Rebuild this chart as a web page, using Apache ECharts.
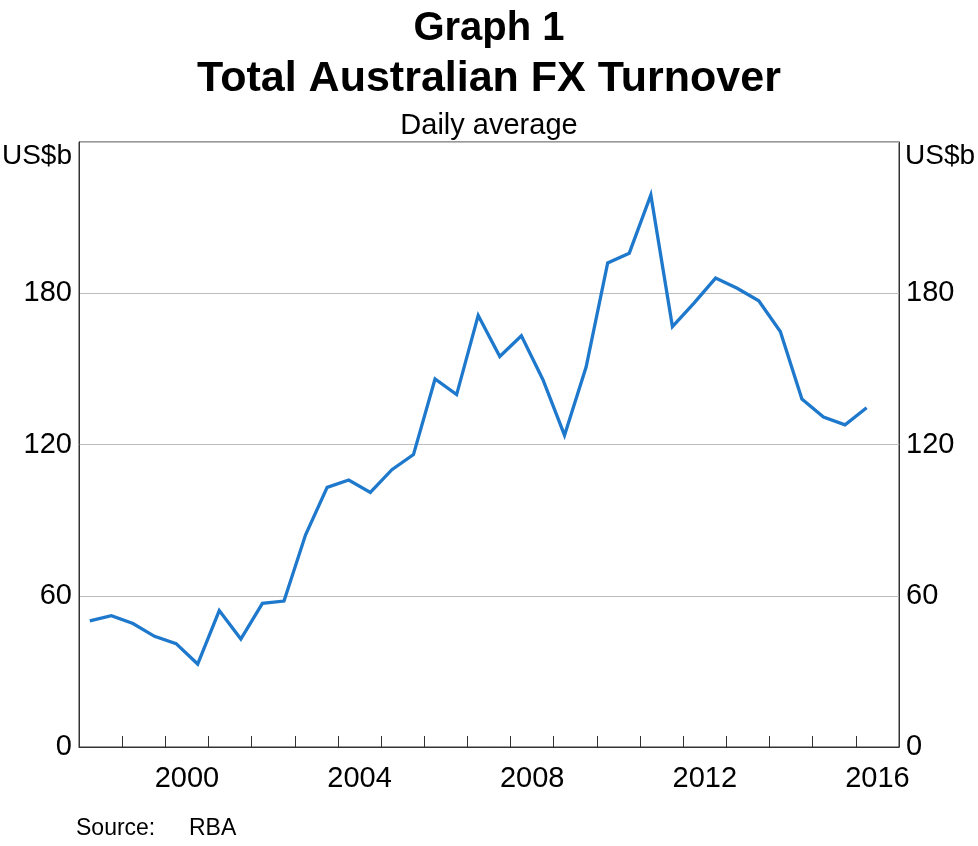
<!DOCTYPE html>
<html>
<head>
<meta charset="utf-8">
<script src="https://cdn.jsdelivr.net/npm/echarts@6/dist/echarts.min.js"></script>
<style>
html,body{margin:0;padding:0;background:#fff;}
#chart{width:978px;height:846px;}
</style>
</head>
<body>
<div id="chart"></div>
<script>
// Survey dates (decimal years: April = .25, October = .75)
const surveyDates = [
  1998.25, 1998.75, 1999.25, 1999.75, 2000.25, 2000.75, 2001.25, 2001.75,
  2002.25, 2002.75, 2003.25, 2003.75, 2004.25, 2004.75, 2005.25, 2005.75,
  2006.25, 2006.75, 2007.25, 2007.75, 2008.25, 2008.75, 2009.25, 2009.75,
  2010.25, 2010.75, 2011.25, 2011.75, 2012.25, 2012.75, 2013.25, 2013.75,
  2014.25, 2014.75, 2015.25, 2015.75, 2016.25
];
// Total Australian FX turnover, daily average, US$b
const turnover = [
  50.0, 52.1, 49.0, 43.9, 41.0, 32.9, 54.1, 42.8,
  57.0, 57.9, 84.2, 103.0, 105.9, 101.0, 110.0, 116.0,
  146.0, 139.8, 171.2, 154.9, 163.1, 145.7, 123.7, 150.7,
  192.0, 195.9, 219.0, 166.8, 176.1, 186.0, 182.0, 177.0,
  164.8, 138.0, 130.9, 127.8, 134.6
];
const yearLabels = [2000, 2004, 2008, 2012, 2016];
const yTickLabels = [0, 60, 120, 180];

const seriesData = surveyDates.map((d, i) => [d, turnover[i]]);
const FONT = 'Liberation Sans, Arial, Helvetica, sans-serif';
const DARK = '#333333';

const chart = echarts.init(document.getElementById('chart'), null, {renderer: 'canvas'});
chart.setOption({
  backgroundColor: '#ffffff',
  animation: false,
  title: [
    {text: 'Graph 1', left: 'center', top: 4,
     textStyle: {fontFamily: FONT, fontSize: 40, fontWeight: 'bold', color: '#000', lineHeight: 40}},
    {text: 'Total Australian FX Turnover', left: 'center', top: 53,
     textStyle: {fontFamily: FONT, fontSize: 43, fontWeight: 'bold', color: '#000', lineHeight: 43}},
    {text: 'Daily average', left: 'center', top: 106,
     textStyle: {fontFamily: FONT, fontSize: 29, fontWeight: 'normal', color: '#000', lineHeight: 29}}
  ],
  grid: {left: 79, right: 79, top: 142, bottom: 99, show: true, borderColor: DARK, borderWidth: 1, backgroundColor: 'transparent'},
  xAxis: [
    {type: 'value', min: 1998, max: 2017, interval: 1, position: 'bottom',
     axisLine: {show: true, onZero: false, lineStyle: {color: DARK, width: 1}},
     axisTick: {show: true, inside: true, length: 11, lineStyle: {color: DARK, width: 1}},
     axisLabel: {show: false}, splitLine: {show: false}},
    {type: 'value', min: 1998, max: 2017, interval: 0.5, position: 'bottom',
     axisLine: {show: false}, axisTick: {show: false}, splitLine: {show: false},
     axisLabel: {show: true, margin: 17, fontFamily: FONT, fontSize: 29, color: '#000', lineHeight: 29,
       showMinLabel: true, showMaxLabel: true,
       formatter: v => { const y = Math.round((v - 0.5) * 10) / 10; return yearLabels.includes(y) ? String(y) : ''; }}}
  ],
  yAxis: [
    {type: 'value', min: 0, max: 240, interval: 60, position: 'left',
     axisLine: {show: true, lineStyle: {color: DARK, width: 1}}, axisTick: {show: false},
     splitLine: {show: true, lineStyle: {color: '#bdbdbd', width: 1}},
     axisLabel: {margin: 7, fontFamily: FONT, fontSize: 29, color: '#000',
       formatter: v => yTickLabels.includes(v) ? String(v) : ''}},
    {type: 'value', min: 0, max: 240, interval: 60, position: 'right',
     axisLine: {show: true, lineStyle: {color: DARK, width: 1}}, axisTick: {show: false},
     splitLine: {show: false},
     axisLabel: {margin: 7, fontFamily: FONT, fontSize: 29, color: '#000',
       formatter: v => yTickLabels.includes(v) ? String(v) : ''}}
  ],
  graphic: [
    {type: 'text', right: 906, top: 142,
     style: {text: 'US$b', fontFamily: FONT, fontSize: 28, fill: '#000'}},
    {type: 'text', left: 905, top: 142,
     style: {text: 'US$b', fontFamily: FONT, fontSize: 28, fill: '#000'}},
    {type: 'text', left: 76, top: 817,
     style: {text: 'Source:', fontFamily: FONT, fontSize: 23, fill: '#000'}},
    {type: 'text', left: 189, top: 817,
     style: {text: 'RBA', fontFamily: FONT, fontSize: 23, fill: '#000'}}
  ],
  series: [
    {type: 'line', xAxisIndex: 0, yAxisIndex: 0, data: seriesData, showSymbol: false,
     lineStyle: {color: '#1e78cc', width: 3.3, join: 'miter'}, itemStyle: {color: '#1e78cc'}}
  ]
});
</script>
</body>
</html>
